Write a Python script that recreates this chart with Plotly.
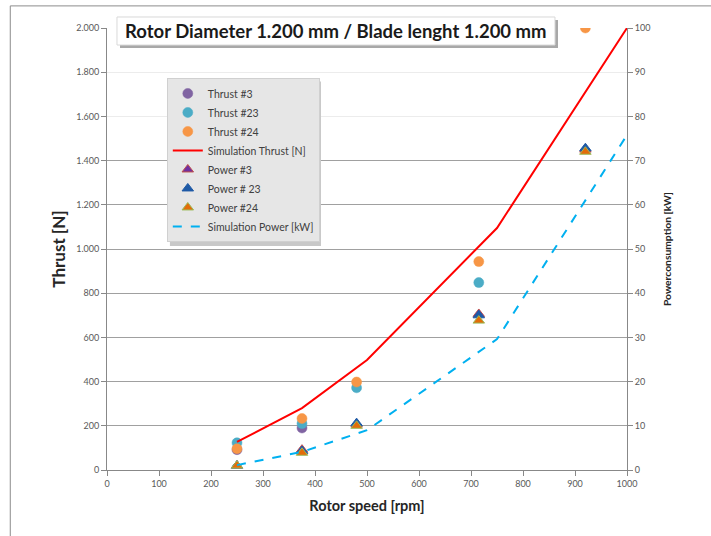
import plotly.graph_objects as go

# ---- data ----
rpm = [250, 375, 480, 715, 920]
thrust_3 = [92, 190, None, None, None]
thrust_23 = [123, 210, 372, 848, None]
thrust_24 = [96, 233, 398, 943, 2000]

sim_rpm = [250, 375, 500, 750, 1000]
sim_thrust = [127, 280, 498, 1095, 2000]
sim_power = [1.1, 4.1, 9.0, 29.6, 75.8]

power_3 = [1.0, 4.6, 10.3, 35.3, 72.5]
power_23 = [1.0, 4.3, 10.6, 35.0, 72.8]
power_24 = [1.0, 3.9, 10.0, 33.8, 72.0]

thrust_ticks = list(range(0, 2001, 200))
dark_grid_ticks = list(range(0, 1401, 200))
power_ticks = list(range(0, 101, 10))
rpm_ticks = list(range(0, 1001, 100))

FONT = "Lato"
fig = go.Figure()

def circ(name, y, color):
    fig.add_trace(go.Scatter(x=rpm, y=y, name=name, mode="markers",
                             marker=dict(symbol="circle", size=10, color=color,
                                         line=dict(width=0.5, color=color))))

def tri(name, y, color, edge):
    fig.add_trace(go.Scatter(x=rpm, y=y, name=name, mode="markers", yaxis="y2",
                             marker=dict(symbol="triangle-up", size=10, color=color,
                                         line=dict(width=1, color=edge))))

circ("Thrust #3", thrust_3, "#8064a2")
circ("Thrust #23", thrust_23, "#4bacc6")
circ("Thrust #24", thrust_24, "#f79646")
fig.add_trace(go.Scatter(x=sim_rpm, y=sim_thrust, name="Simulation Thrust [N]", mode="lines",
                         line=dict(color="#ff0000", width=2)))
tri("Power #3", power_3, "#7030a0", "#c0504d")
tri("Power # 23", power_23, "#1f5aa6", "#1f5aa6")
tri("Power #24", power_24, "#e36c09", "#9bbb59")
fig.add_trace(go.Scatter(x=sim_rpm, y=sim_power, name="Simulation Power [kW]", mode="lines",
                         yaxis="y2", line=dict(color="#00b0f0", width=2, dash="dash")))

tickfont = dict(family=FONT, size=9, color="#595959")

fig.update_layout(
    width=711, height=536,
    margin=dict(l=107, r=84, t=28, b=66),
    paper_bgcolor="white", plot_bgcolor="white",
    separators=",.",
    showlegend=True,
    legend=dict(x=0.115, y=0.887, xanchor="left", yanchor="top",
                bgcolor="#e6e6e6", bordercolor="#d0d0d0", borderwidth=1,
                font=dict(family=FONT, size=10.5, color="#404040"),
                tracegroupgap=0, itemwidth=30),
    xaxis=dict(range=[0, 1000], tickvals=rpm_ticks, showgrid=False,
               showline=True, linecolor="#888888", linewidth=1,
               ticks="outside", ticklen=5, tickcolor="#888888",
               tickfont=tickfont, zeroline=False,
               title=dict(text="<b>Rotor speed [rpm]</b>",
                          font=dict(family=FONT, size=14.5, color="#262626"), standoff=13)),
    yaxis=dict(range=[0, 2000], tickvals=thrust_ticks, tickformat=",d",
               showgrid=True, gridcolor="#ececec", gridwidth=1,
               showline=True, linecolor="#888888", linewidth=1,
               ticks="outside", ticklen=5, tickcolor="#888888",
               tickfont=tickfont, zeroline=False,
               title=dict(text="<b>Thrust [N]</b>",
                          font=dict(family=FONT, size=17, color="#262626"), standoff=6)),
    yaxis3=dict(range=[0, 2000], tickvals=dark_grid_ticks, overlaying="y",
                showticklabels=False, showgrid=True, gridcolor="#a0a0a0", gridwidth=1,
                zeroline=False, showline=False),
    yaxis2=dict(range=[0, 100], tickvals=power_ticks, overlaying="y", side="right",
                showgrid=False, showline=True, linecolor="#888888", linewidth=1,
                ticks="outside", ticklen=5, tickcolor="#888888",
                tickfont=tickfont, zeroline=False,
                title=dict(text="<b>Powerconsumption [kW]</b>",
                           font=dict(family=FONT, size=10.3, color="#262626"), standoff=14)),
)

# activate yaxis3 (dark gridlines for lower part)
fig.add_trace(go.Scatter(x=[None], y=[None], yaxis="y3", showlegend=False, hoverinfo="skip"))

# outer frame
fig.add_shape(type="rect", xref="paper", yref="paper", x0=-0.186, x1=1.25, y0=-0.3, y1=1.05,
              line=dict(color="#8c8c8c", width=1), layer="below")

# legend shadow (drawn under the legend box)
fig.add_shape(type="rect", xref="paper", yref="paper", x0=0.121, x1=0.4115, y0=0.507, y1=0.879,
              fillcolor="#c8c8c8", line=dict(width=0), layer="above")

# title box with shadow
fig.add_shape(type="rect", xref="paper", yref="paper", x0=0.0250, x1=0.8673, y0=0.9547, y1=1.0181,
              fillcolor="#a8a8a8", line=dict(width=0), layer="above")
fig.add_shape(type="rect", xref="paper", yref="paper", x0=0.0192, x1=0.8615, y0=0.9615, y1=1.0249,
              fillcolor="white", line=dict(color="#d9d9d9", width=1), layer="above")
fig.add_annotation(xref="paper", yref="paper", x=0.4404, y=0.9932, xanchor="center", yanchor="middle",
                   text="<b>Rotor Diameter 1.200 mm / Blade lenght 1.200 mm</b>", showarrow=False,
                   font=dict(family=FONT, size=18.5, color="#1a1a1a"))

fig.write_html("out.html")
